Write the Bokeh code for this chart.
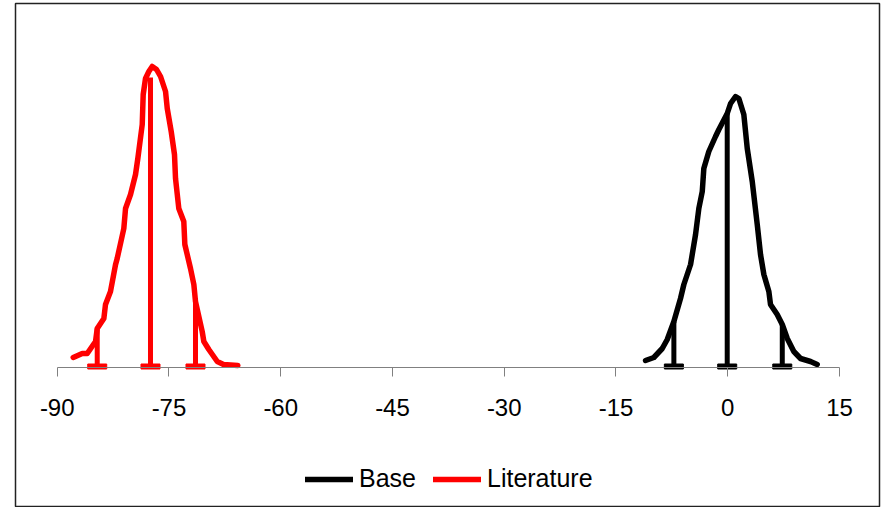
from bokeh.plotting import figure
from bokeh.models import LinearAxis, FixedTicker, Legend, LegendItem, Range1d
from bokeh.embed import file_html
from bokeh.resources import INLINE

# ---- data ----
lit_x = [-87.85, -86.64, -85.97, -84.86, -84.63, -83.74, -83.52, -82.85, -82.17, -81.95,
         -81.06, -80.83, -80.16, -79.49, -79.18, -78.59, -78.46, -78.15, -77.70, -77.25,
         -76.67, -76.13, -75.46, -75.23, -74.70, -74.26, -74.12, -73.68, -73.01, -72.87,
         -72.11, -71.66, -71.44, -70.54, -70.32, -69.65, -68.52, -67.68, -65.76]
lit_y = [10, 14, 14, 26, 39, 49, 63, 76, 103, 109,
         139, 159, 173, 193, 209, 243, 273, 289, 296, 301,
         298, 291, 276, 259, 236, 213, 189, 159, 146, 123,
         99, 83, 66, 36, 26, 18, 6, 3, 2]

base_x = [-11.03, -9.92, -8.79, -8.12, -7.23, -6.34, -5.89, -4.99, -4.32, -3.88,
          -3.42, -3.21, -2.54, -1.64, -1.19, -0.07, 0.38, 1.05, 1.49, 2.16,
          2.62, 3.29, 3.96, 4.40, 4.85, 5.52, 5.74, 6.64, 7.32, 7.99,
          8.87, 9.77, 11.11, 12.01]
base_y = [7, 10, 19, 28, 46, 69, 83, 103, 133, 159,
          176, 199, 216, 231, 238, 254, 264, 271, 269, 253,
          219, 186, 143, 113, 93, 76, 63, 53, 43, 29,
          16, 9, 6, 3]

lit_marks_x = [-84.63, -77.48, -71.44]
lit_marks_h = [39, 290, 66]
base_marks_x = [-7.23, -0.07, 7.32]
base_marks_h = [46, 254, 43]

x_ticks = [-90, -75, -60, -45, -30, -15, 0, 15]
x_tick_labels = [str(t) for t in x_ticks]

FONT = "Liberation Sans, Arial, sans-serif"

p = figure(width=885, height=507, output_backend="svg", toolbar_location=None,
           x_range=Range1d(-95.60, 20.37), y_range=Range1d(-139, 364),
           x_axis_location=None, y_axis_location=None,
           min_border_left=15, min_border_right=6, min_border_top=3, min_border_bottom=1,
           outline_line_color="#222222", outline_line_width=1.5,
           background_fill_color="white", border_fill_color="white")
p.grid.grid_line_color = None

base_r = p.line(base_x, base_y, line_color="black", line_width=5.5,
                line_join="round", line_cap="round")
lit_r = p.line(lit_x, lit_y, line_color="red", line_width=5.5,
               line_join="round", line_cap="round")

for mx, mh, col in ((lit_marks_x, lit_marks_h, "red"), (base_marks_x, base_marks_h, "black")):
    p.segment(x0=mx, y0=[0] * len(mx), x1=mx, y1=mh, line_color=col, line_width=5)
    p.rect(x=mx, y=[1] * len(mx), width=19, height=5, width_units="screen",
           height_units="screen", fill_color=col, line_color=col, line_width=1)

ax = LinearAxis(fixed_location=0, bounds=(-90, 15), ticker=FixedTicker(ticks=x_ticks))
ax.major_label_overrides = dict(zip(x_ticks, x_tick_labels))
ax.axis_line_color = "#808080"
ax.axis_line_width = 1
ax.major_tick_line_color = "#808080"
ax.major_tick_out = 9
ax.major_tick_in = 0
ax.minor_tick_out = 0
ax.minor_tick_in = 0
ax.major_label_standoff = 22
ax.major_label_text_font = FONT
ax.major_label_text_font_size = "24px"
ax.major_label_text_color = "black"
p.add_layout(ax, "below")

legend = Legend(items=[LegendItem(label="Base", renderers=[base_r]),
                       LegendItem(label="Literature", renderers=[lit_r])],
                orientation="horizontal", location=(290, 13),
                border_line_color=None, background_fill_alpha=0,
                padding=0, margin=0, spacing=17,
                glyph_width=48, glyph_height=26, label_height=26, label_standoff=6,
                label_text_font=FONT, label_text_font_size="25px",
                label_text_color="black")
p.add_layout(legend)

open("out.html", "w").write(file_html(p, INLINE))
